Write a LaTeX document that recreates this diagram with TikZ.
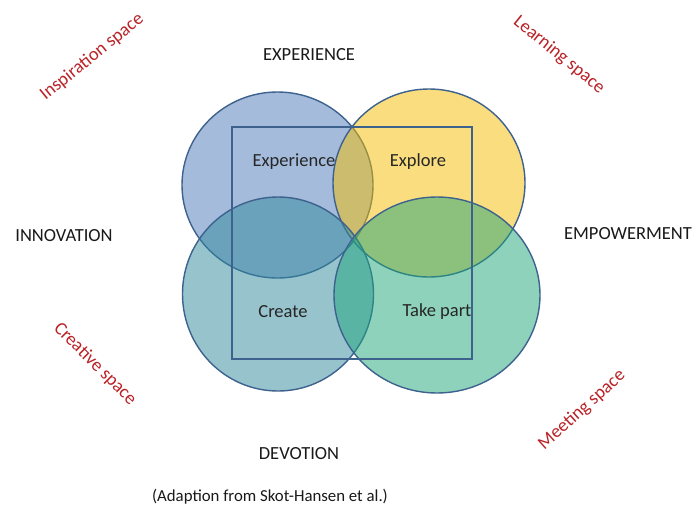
\documentclass[tikz,border=0pt]{standalone}
\usepackage{fontspec}
\setmainfont{Carlito}
\begin{document}
\begin{tikzpicture}[x=1pt,y=-1pt,
  circ/.style={draw=edgeblue,line width=1.4pt,fill opacity=0.5},
  outerlabel/.style={font=\fontsize{18.5}{20}\selectfont,text=black!90,inner sep=0pt},
  innerlabel/.style={font=\fontsize{18.5}{20}\selectfont,text=black!85,inner sep=0pt},
  spacelabel/.style={font=\fontsize{18.5}{20}\selectfont,text=spacered,inner sep=0pt}]
\definecolor{edgeblue}{RGB}{62,98,142}
\definecolor{cTL}{RGB}{75,121,185}
\definecolor{cTR}{RGB}{245,189,0}
\definecolor{cBL}{RGB}{49,137,157}
\definecolor{cBR}{RGB}{31,167,123}
\definecolor{spacered}{RGB}{185,35,40}
\useasboundingbox (0,0) rectangle (695,509);
\fill[white] (0,0) rectangle (695,509);
% circles
\draw[circ,fill=cTL] (277.5,185) ellipse [x radius=95.5, y radius=93];
\draw[circ,fill=cTR] (429,183) ellipse [x radius=96, y radius=94];
\draw[circ,fill=cBL] (278,294) ellipse [x radius=95.5, y radius=97];
\draw[circ,fill=cBR] (437,295) ellipse [x radius=103, y radius=98];
% frame
\node[draw=edgeblue,line width=1.8pt,minimum width=240pt,minimum height=232pt,inner sep=0pt] (frame) at (352,243) {};
% inner labels
\node[innerlabel] (exp) at (294,162) {Experience};
\node[innerlabel] (expl) at (418,162) {Explore};
\node[innerlabel] (cre) at (283,312) {Create};
\node[innerlabel] (take) at (437,312) {Take part};
% outer labels
\node[outerlabel] (EXP) at (309,55) {EXPERIENCE};
\node[outerlabel] (INN) at (64,236) {INNOVATION};
\node[outerlabel] (EMP) at (628,234) {EMPOWERMENT};
\node[outerlabel] (DEV) at (299,454) {DEVOTION};
% spaces
\node[spacelabel,rotate=39] (insp) at (92,57) {Inspiration space};
\node[spacelabel,rotate=-39] (learn) at (559,55) {Learning space};
\node[spacelabel,rotate=-45] (creat) at (95,364) {Creative space};
\node[spacelabel,rotate=42] (meet) at (582,410) {Meeting space};
% source
\node[font=\fontsize{16.8}{18}\selectfont,inner sep=0pt,text=black!90] (src) at (270,497) {(Adaption from Skot-Hansen et al.)};
\end{tikzpicture}
\end{document}
